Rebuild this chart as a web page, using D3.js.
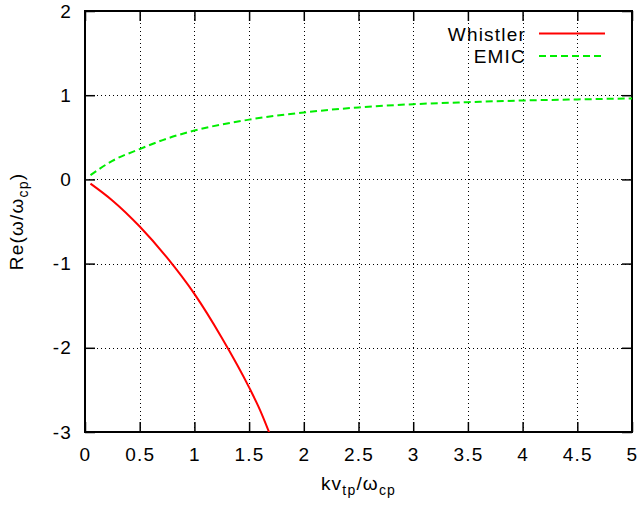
<!DOCTYPE html>
<html>
<head>
<meta charset="utf-8">
<script src="https://d3js.org/d3.v7.min.js"></script>
<style>
	html, body { margin: 0; background: white; }
	text { font-family: "Liberation Sans", Arial, sans-serif; fill: #000; }
</style>
</head>
<body>
<svg id="svg"></svg>
<script>
// values
const whistlerK = [0.05, 0.25, 0.5, 0.75, 1.0, 1.25, 1.5, 1.6, 1.7];
const whistlerW = [-0.05, -0.25, -0.56, -0.93, -1.36, -1.88, -2.47, -2.74, -3.06];
const emicK = [0.05, 0.25, 0.5, 0.75, 1.0, 1.5, 2.0, 2.5, 3.0, 3.5, 4.0, 4.5, 5.0];
const emicW = [0.05, 0.22, 0.36, 0.485, 0.58, 0.71, 0.795, 0.855, 0.893, 0.917, 0.937, 0.95, 0.962];
const xTicks = [0, 0.5, 1, 1.5, 2, 2.5, 3, 3.5, 4, 4.5, 5];
const yTicks = [-3, -2, -1, 0, 1, 2];

const W = 641, H = 508;
const m = {top: 11, left: 85, right: 9, bottom: 76};
const pw = W - m.left - m.right, ph = H - m.top - m.bottom;
const fs = 19, ls = "1.2px";

const svg = d3.select("#svg").attr("width", W).attr("height", H);
svg.append("rect").attr("width", W).attr("height", H).attr("fill", "white");

const x = d3.scaleLinear().domain([0, 5]).range([m.left, m.left + pw]);
const y = d3.scaleLinear().domain([-3, 2]).range([m.top + ph, m.top]);

svg.append("clipPath").attr("id", "clip")
	.append("rect").attr("x", m.left).attr("y", m.top).attr("width", pw).attr("height", ph);

// grid
const grid = svg.append("g").attr("stroke", "#000").attr("stroke-width", 1).attr("stroke-dasharray", "1,3");
grid.selectAll(".gx").data(xTicks.slice(1, -1)).enter().append("line")
	.attr("x1", d => Math.round(x(d)) + 0.5).attr("x2", d => Math.round(x(d)) + 0.5)
	.attr("y1", m.top).attr("y2", m.top + ph);
grid.selectAll(".gy").data(yTicks.slice(1, -1)).enter().append("line")
	.attr("y1", d => Math.round(y(d)) + 0.5).attr("y2", d => Math.round(y(d)) + 0.5)
	.attr("x1", m.left).attr("x2", m.left + pw);

// axes: ticks pointing inward, mirrored on top/right
const tl = 10;
const fmt = d => String(d);
const axBottom = svg.append("g").attr("transform", `translate(0,${m.top + ph})`)
	.call(d3.axisBottom(x).tickValues(xTicks).tickSizeInner(-tl).tickSizeOuter(0).tickPadding(16).tickFormat(fmt));
const axTop = svg.append("g").attr("transform", `translate(0,${m.top})`)
	.call(d3.axisTop(x).tickValues(xTicks).tickSizeInner(-tl).tickSizeOuter(0).tickFormat(""));
const axLeft = svg.append("g").attr("transform", `translate(${m.left},0)`)
	.call(d3.axisLeft(y).tickValues(yTicks).tickSizeInner(-tl).tickSizeOuter(0).tickPadding(13).tickFormat(fmt));
const axRight = svg.append("g").attr("transform", `translate(${m.left + pw},0)`)
	.call(d3.axisRight(y).tickValues(yTicks).tickSizeInner(-tl).tickSizeOuter(0).tickFormat(""));
[axBottom, axTop, axLeft, axRight].forEach(g => {
	g.select(".domain").remove();
	g.selectAll("line").attr("stroke", "#000").attr("stroke-width", 1.5);
	g.selectAll("text").attr("font-size", fs).attr("letter-spacing", ls)
		.attr("font-family", "Liberation Sans, Arial, sans-serif").attr("fill", "#000");
});

// frame
svg.append("rect").attr("x", m.left).attr("y", m.top).attr("width", pw).attr("height", ph)
	.attr("fill", "none").attr("stroke", "#000").attr("stroke-width", 2);

// curves
const line = d3.line().x(d => x(d[0])).y(d => y(d[1])).curve(d3.curveMonotoneX);
const plot = svg.append("g").attr("clip-path", "url(#clip)");
plot.append("path").datum(d3.zip(whistlerK, whistlerW))
	.attr("fill", "none").attr("stroke", "#ff0000").attr("stroke-width", 2).attr("d", line);
plot.append("path").datum(d3.zip(emicK, emicW))
	.attr("fill", "none").attr("stroke", "#00ee00").attr("stroke-width", 2)
	.attr("stroke-dasharray", "7,4").attr("d", line);

// legend
const legend = [["Whistler", "#ff0000", null], ["EMIC", "#00ee00", "7,4"]];
legend.forEach((l, i) => {
	const ly = 33.5 + i * 22.5;
	svg.append("text").attr("x", 526).attr("y", ly + 7).attr("text-anchor", "end")
		.attr("font-size", fs).attr("letter-spacing", ls).text(l[0]);
	svg.append("line").attr("x1", 539).attr("x2", 605).attr("y1", ly).attr("y2", ly)
		.attr("stroke", l[1]).attr("stroke-width", 2).attr("stroke-dasharray", l[2]);
});

// axis titles
const xt = svg.append("text").attr("x", m.left + pw / 2).attr("y", 490).attr("text-anchor", "middle")
	.attr("font-size", fs).attr("letter-spacing", ls);
xt.append("tspan").text("kv");
xt.append("tspan").attr("font-size", 14).attr("dy", 5).text("tp");
xt.append("tspan").attr("dy", -5).text("/ω");
xt.append("tspan").attr("font-size", 14).attr("dy", 5).text("cp");

const yt = svg.append("text").attr("transform", `translate(23,${m.top + ph / 2}) rotate(-90)`)
	.attr("text-anchor", "middle").attr("font-size", fs).attr("letter-spacing", ls);
yt.append("tspan").text("Re(ω/ω");
yt.append("tspan").attr("font-size", 14).attr("dy", 5).text("cp");
yt.append("tspan").attr("dy", -5).text(")");
</script>
</body>
</html>
